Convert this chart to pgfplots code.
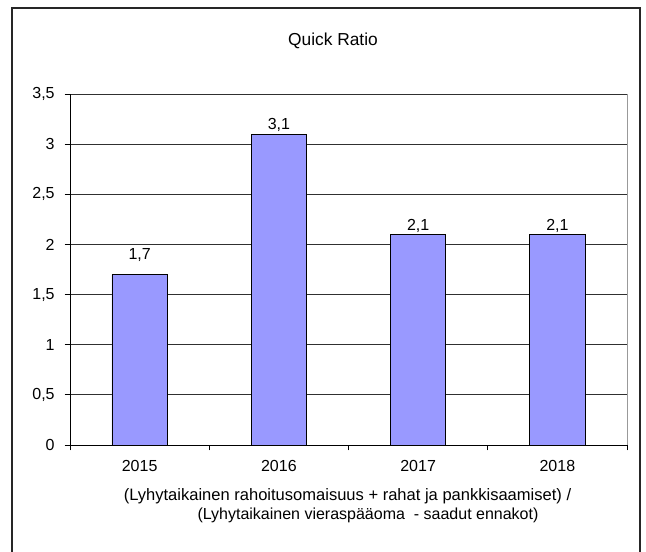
\documentclass[border=0pt]{standalone}
\usepackage{pgfplots}
\pgfplotsset{compat=1.18}
\usepackage{fontspec}
\setmainfont{Liberation Sans}
\definecolor{barfill}{HTML}{9999FF}
\definecolor{gridc}{HTML}{303030}
\definecolor{borderc}{HTML}{999999}
\pgfplotstableread{
x y off
0 1.7 14.6
1 3.1 6.6
2 2.1 6.0
3 2.1 6.0
}\qrdata
\begin{document}
\begin{tikzpicture}[x=0.75pt,y=0.75pt]
% bounding box in px units (y up from bottom)
\path[use as bounding box] (0,0) rectangle (646,552);
% outer frame (no bottom edge visible)
\draw[line width=1.2pt,black!85] (12,0) -- (12,544) -- (640,544) -- (640,0);
\node[font=\fontsize{13}{15}\selectfont] at (333,511) {Quick Ratio};
\node[font=\fontsize{12.4}{14}\selectfont] at (347.5,56) {(Lyhytaikainen rahoitusomaisuus + rahat ja pankkisaamiset) /};
\node[font=\fontsize{12}{14}\selectfont] at (368,37) {(Lyhytaikainen vieraspääoma\ \ - saadut ennakot)};
\begin{axis}[
  at={(52.5pt,343.5pt)}, anchor=north west,
  scale only axis,
  width=417.75pt, height=263.25pt,
  xmin=-0.5, xmax=3.5, ymin=0, ymax=3.5,
  ybar, bar width=41.5pt,
  bar shift=0pt,
  separate axis lines,
  axis x line*=bottom, axis y line*=left,
  axis line style={black, line width=0.6pt, -},
  xtick={-0.5,0.5,1.5,2.5},
  xticklabels={2015,2016,2017,2018},
  xticklabel style={xshift=52.22pt, yshift=-4pt},
  extra x ticks={3.5},
  extra x tick labels={},
  ytick={0,0.5,1,1.5,2,2.5,3,3.5},
  ymajorgrids,
  major grid style={gridc, line width=0.6pt},
  tick align=outside,
  major tick length=4pt,
  tick style={black, line width=0.6pt},
  y tick label style={/pgf/number format/use comma, /pgf/number format/fixed, /pgf/number format/precision=1, /pgf/number format/assume math mode=true, xshift=-4pt},
  tick label style={font=\fontsize{12}{14}\selectfont},
  nodes near coords,
  visualization depends on={\thisrow{off} \as \labeloff},
  every node near coord/.append style={font=\fontsize{12}{14}\selectfont, anchor=center, yshift=\labeloff pt, /pgf/number format/use comma, /pgf/number format/fixed, /pgf/number format/precision=1, /pgf/number format/assume math mode=true},
  clip=false,
]
\addplot[fill=barfill, draw=black, line width=0.6pt] table[x=x,y=y] {\qrdata};
\draw[borderc, line width=0.7pt] (rel axis cs:1,0) -- (rel axis cs:1,1);
\end{axis}
\end{tikzpicture}
\end{document}
